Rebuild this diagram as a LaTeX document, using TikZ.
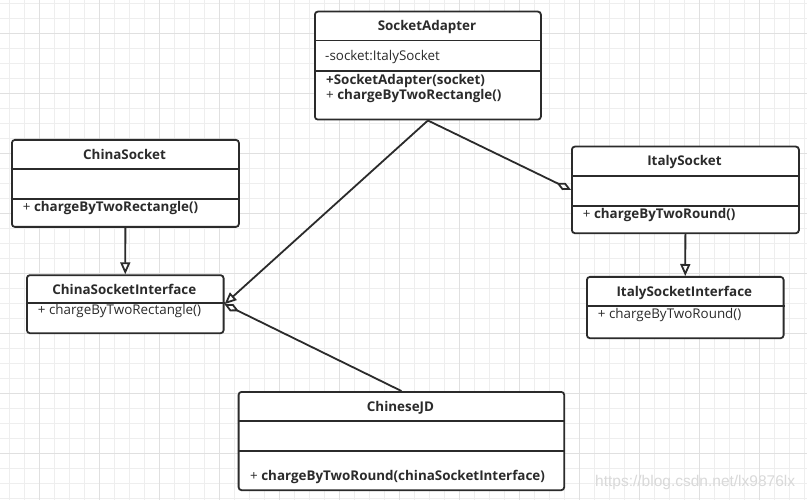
\documentclass[tikz,border=0pt]{standalone}
\usepackage{fontspec}
\setmainfont{Open Sans}
\newfontfamily\markfont{Liberation Sans}
\usetikzlibrary{arrows.meta}
\definecolor{ink}{HTML}{2B2B2B}
\definecolor{gridlight}{HTML}{EEEEEE}
\definecolor{griddark}{HTML}{E0E0E0}

\begin{document}
\begin{tikzpicture}[x=1pt,y=-1pt,
    classbox/.style={draw=ink,line width=1.8pt,rounded corners=3pt,fill=white,anchor=north west,inner sep=0pt},
    classname/.style={font=\fontsize{13.4}{16}\selectfont\bfseries,text=ink,anchor=base,inner sep=0pt},
    member/.style={font=\fontsize{13.4}{16}\selectfont,text=ink,anchor=base west,inner sep=0pt},
    divider/.style={draw=ink,line width=1.8pt},
    rel/.style={draw=ink,line width=1.8pt},
    realize/.style={rel,-{Triangle[open,length=12pt,width=10pt]}},
    aggr/.style={rel,-{Diamond[open,length=16pt,width=8pt]}}]
  \useasboundingbox (0,0) rectangle (807,500);
  \fill[white] (0,0) rectangle (807,500);
  % grid
  \foreach \x in {9.3,24.3,...,807} \draw[gridlight,line width=1pt] (\x,0) -- (\x,500);
  \foreach \y in {3.3,18.3,...,500} \draw[gridlight,line width=1pt] (0,\y) -- (807,\y);
  \foreach \x in {39.3,99.3,...,807} \draw[griddark,line width=1pt] (\x,0) -- (\x,500);
  \foreach \y in {33.3,93.3,...,500} \draw[griddark,line width=1pt] (0,\y) -- (807,\y);

  % classes
  \node[classbox,minimum width=226pt,minimum height=108pt] (adapter) at (314,10.7) {};
  \draw[divider] (adapter.west |- 0,40.5) -- (adapter.east |- 0,40.5);
  \draw[divider] (adapter.west |- 0,70.7) -- (adapter.east |- 0,70.7);
  \node[classname] (adapterName) at (427,31) {SocketAdapter};
  \node[member] (adapterAttr) at (325,61) {-socket:ItalySocket};
  \node[member] (adapterNew) at (326,84.3) {\bfseries +SocketAdapter(socket)};
  \node[member] (adapterCharge) at (326,100) {+ \textbf{chargeByTwoRectangle()}};

  \node[classbox,minimum width=227pt,minimum height=87pt] (chinaSocket) at (11,139) {};
  \draw[divider] (chinaSocket.west |- 0,169) -- (chinaSocket.east |- 0,169);
  \draw[divider] (chinaSocket.west |- 0,199.3) -- (chinaSocket.east |- 0,199.3);
  \node[classname] (chinaSocketName) at (124.5,159.3) {ChinaSocket};
  \node[member] (chinaSocketCharge) at (22.7,212) {+ \textbf{chargeByTwoRectangle()}};

  \node[classbox,minimum width=196.7pt,minimum height=58pt] (chinaIface) at (26,274.3) {};
  \draw[divider] (chinaIface.west |- 0,303.3) -- (chinaIface.east |- 0,303.3);
  \node[classname] (chinaIfaceName) at (124.3,294.3) {ChinaSocketInterface};
  \node[member] (chinaIfaceCharge) at (37.7,315) {+ chargeByTwoRectangle()};

  \node[classbox,minimum width=227pt,minimum height=86.6pt] (italySocket) at (571,145.7) {};
  \draw[divider] (italySocket.west |- 0,175.7) -- (italySocket.east |- 0,175.7);
  \draw[divider] (italySocket.west |- 0,206) -- (italySocket.east |- 0,206);
  \node[classname] (italySocketName) at (684.5,166) {ItalySocket};
  \node[member] (italySocketCharge) at (582.7,218.3) {+ \textbf{chargeByTwoRound()}};

  \node[classbox,minimum width=196.7pt,minimum height=61.3pt] (italyIface) at (586,276) {};
  \draw[divider] (italyIface.west |- 0,305.7) -- (italyIface.east |- 0,305.7);
  \node[classname] (italyIfaceName) at (684.3,296) {ItalySocketInterface};
  \node[member] (italyIfaceCharge) at (597.7,319) {+ chargeByTwoRound()};

  \node[classbox,minimum width=325.6pt,minimum height=98.3pt] (jd) at (237.7,391) {};
  \draw[divider] (jd.west |- 0,421) -- (jd.east |- 0,421);
  \draw[divider] (jd.west |- 0,450.7) -- (jd.east |- 0,450.7);
  \node[classname] (jdName) at (400.5,411) {ChineseJD};
  \node[member] (jdCharge) at (250,480) {+ \textbf{chargeByTwoRound(chinaSocketInterface)}};

  % relations
  \draw[realize] (chinaSocket.south) -- (chinaIface.north);
  \draw[realize] (italySocket.south) -- (italyIface.north);
  \draw[realize] (adapter.south) -- (chinaIface.east);
  \draw[aggr] (adapter.south) -- (italySocket.west);
  \draw[aggr] (jd.north) -- (chinaIface.east);

  \node[anchor=base west,inner sep=0pt,font=\markfont\fontsize{15.5}{18}\selectfont,text=black!15] (mark) at (595,486) {https://blog.csdn.net/lx9876lx};
\end{tikzpicture}
\end{document}
